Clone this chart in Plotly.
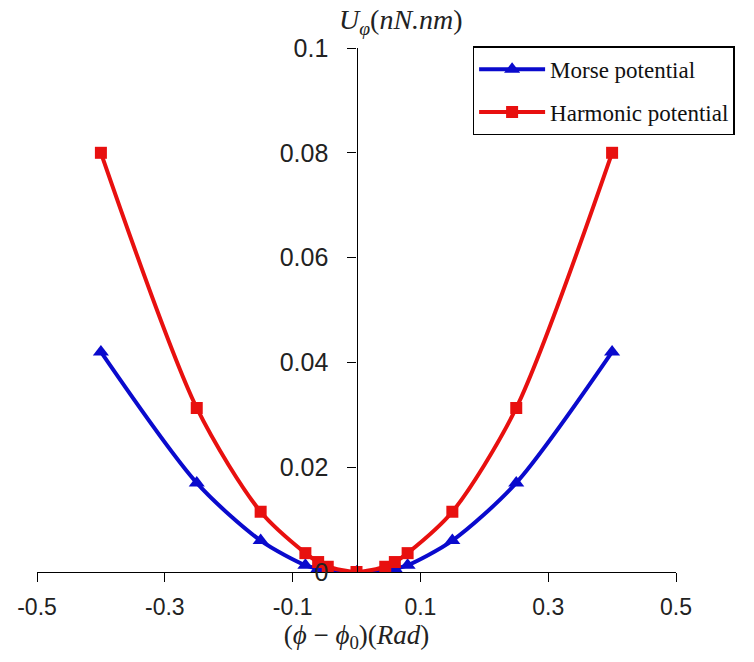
import plotly.graph_objects as go

# Data
x_vals = [-0.4, -0.25, -0.15, -0.08, -0.06, -0.045, 0.0, 0.045, 0.06, 0.08, 0.15, 0.25, 0.4]
morse = [0.042, 0.0170, 0.0060, 0.0013, 0.0006, 0.0003, 0.0, 0.0003, 0.0006, 0.0013, 0.0060, 0.0170, 0.042]
harmonic = [0.080, 0.0313, 0.0115, 0.0036, 0.0019, 0.001, 0.0, 0.001, 0.0019, 0.0036, 0.0115, 0.0313, 0.080]

x_ticks = [-0.5, -0.3, -0.1, 0.1, 0.3, 0.5]
x_tick_text = ["-0.5", "-0.3", "-0.1", "0.1", "0.3", "0.5"]
y_ticks = [0, 0.02, 0.04, 0.06, 0.08, 0.1]
y_tick_text = ["0", "0.02", "0.04", "0.06", "0.08", "0.1"]

BLUE = "#0A0ACD"
RED = "#E8100F"

fig = go.Figure()
fig.add_trace(go.Scatter(
    x=x_vals, y=morse, mode="lines+markers", name="Morse potential",
    legendgroup="m",
    line=dict(color=BLUE, width=4, shape="spline", smoothing=0.8),
    marker=dict(symbol="triangle-up", size=14, color=BLUE),
))
fig.add_trace(go.Scatter(
    x=x_vals, y=harmonic, mode="lines+markers", name="Harmonic potential",
    legendgroup="h",
    line=dict(color=RED, width=4, shape="spline", smoothing=0.8),
    marker=dict(symbol="square", size=12, color=RED),
))

SANS = "Liberation Sans, Arial"
SERIF = "Liberation Serif, Times New Roman"

fig.update_layout(
    width=754, height=662,
    margin=dict(l=37, r=78, t=48, b=90),
    paper_bgcolor="white", plot_bgcolor="white",
    font=dict(family=SANS, size=24, color="#222"),
    xaxis=dict(
        range=[-0.5, 0.5], tickvals=x_ticks, ticktext=x_tick_text,
        showgrid=False, zeroline=False, showline=True, linecolor="black", linewidth=1.3,
        ticks="outside", ticklen=9, tickcolor="black", tickwidth=1.3,
        ticklabelstandoff=5,
        tickfont=dict(size=23, family=SANS, color="#222"),
        title=dict(
            text="(<i>ϕ</i> − <i>ϕ</i><sub>0</sub>)(<i>Rad</i>)",
            font=dict(family=SERIF, size=27, color="#222"),
            standoff=3,
        ),
        fixedrange=True,
    ),
    yaxis=dict(
        range=[0, 0.1], tickvals=y_ticks, ticktext=y_tick_text,
        showgrid=False, zeroline=False, showline=True, linecolor="black", linewidth=1.3,
        ticks="outside", ticklen=9, tickcolor="black", tickwidth=1.3,
        ticklabelstandoff=14,
        anchor="free", position=0.5,
        tickfont=dict(size=25, family=SANS, color="#222"),
        fixedrange=True,
    ),
    legend=dict(
        x=0.682, y=1.003, xanchor="left", yanchor="top",
        bgcolor="white", bordercolor="black", borderwidth=1.3,
        font=dict(family=SERIF, size=23, color="#111"),
        itemwidth=66, traceorder="grouped", tracegroupgap=10,
    ),
    showlegend=True,
)

fig.add_annotation(
    xref="paper", yref="paper", x=0.57, y=1.05, xanchor="center", yanchor="middle",
    text="<i>U</i><sub><i>φ</i></sub>(<i>nN.nm</i>)",
    showarrow=False,
    font=dict(family=SERIF, size=28, color="#222"),
)

fig.write_html("out.html")
